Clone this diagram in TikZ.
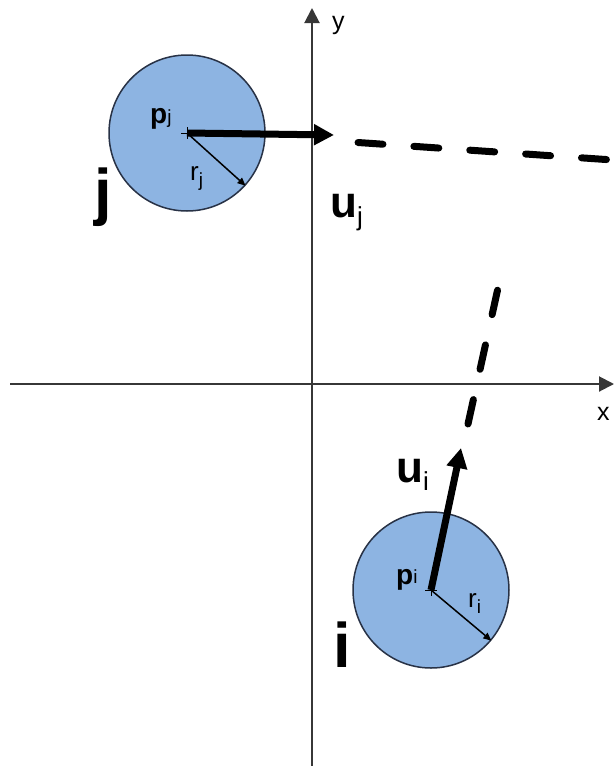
\documentclass[tikz,border=0pt]{standalone}
\usepackage{fontspec}
\setmainfont{Liberation Sans}
\usetikzlibrary{arrows.meta,calc}
\definecolor{discfill}{RGB}{141,180,226}
\definecolor{discline}{RGB}{40,50,70}
\definecolor{axiscol}{RGB}{55,55,55}
\begin{document}
\begin{tikzpicture}[x=1pt,y=-1pt,
  axis/.style={line width=2pt, draw=axiscol, -{Triangle[length=15pt,width=15pt]}},
  disc/.style={circle, minimum size=156pt, fill=discfill, draw=discline, line width=1.5pt, inner sep=0pt},
  vel/.style={line width=7pt, -{Triangle[length=20pt,width=20pt]}},
  dashline/.style={line width=7pt, line cap=round, dash pattern=on 25pt off 31pt},
  rad/.style={line width=1.5pt, -{Triangle[length=8pt,width=7pt]}},
  cross/.style={line width=1pt},
  lbl/.style={inner sep=0pt, anchor=base west},
  big/.style={lbl, font=\fontsize{63}{63}\selectfont\bfseries},
  vlab/.style={lbl, font=\fontsize{44}{44}\selectfont\bfseries},
  plab/.style={lbl, font=\fontsize{28}{28}\selectfont\bfseries},
  rlab/.style={lbl, font=\fontsize{26}{26}\selectfont},
  axlab/.style={lbl, font=\fontsize{25}{25}\selectfont}]
\useasboundingbox (0,0) rectangle (615,766);
% axes
\coordinate (xl) at (10,384);
\coordinate (xr) at (614,384);
\coordinate (yb) at (312,766);
\coordinate (yt) at (312,8);
\draw[axis] (xl) -- (xr);
\draw[axis] (yb) -- (yt);
\node[axlab] (xlab) at (597,420) {x};
\node[axlab] (ylab) at (332,29) {y};
% discs
\node[disc] (cj) at (187,133) {};
\node[disc] (ci) at (431,590) {};
% centre crosses
\draw[cross] ($(cj.center)+(-6,0)$) -- ($(cj.center)+(6,0)$);
\draw[cross] ($(cj.center)+(0,-6)$) -- ($(cj.center)+(0,6)$);
\draw[cross] ($(ci.center)+(-6,0)$) -- ($(ci.center)+(6,0)$);
\draw[cross] ($(ci.center)+(0,-6)$) -- ($(ci.center)+(0,6)$);
% radius arrows
\draw[rad] (cj.center) -- (cj.-42);
\draw[rad] (ci.center) -- (ci.-40);
% velocity arrows
\coordinate (ujtip) at (334,135);
\coordinate (uitip) at (461,448);
\draw[vel] (cj.center) -- (ujtip);
\draw[vel] (ci.center) -- (uitip);
% dashed extensions
\coordinate (dj0) at (358,142.5);
\coordinate (dj1) at (613,160);
\coordinate (di0) at (468,424);
\coordinate (di1) at (498,288);
\draw[dashline] (dj0) -- (dj1);
\draw[dashline] (di0) -- (di1);
% labels
\node[plab] (pj) at (150,123) {p\raisebox{0pt}{\fontsize{19}{19}\selectfont\mdseries j}};
\node[plab] (pi) at (396,584) {p\raisebox{1pt}{\fontsize{19}{19}\selectfont\mdseries i}};
\node[rlab] (rj) at (190,180) {r\raisebox{-6pt}{\fontsize{19}{19}\selectfont j}};
\node[rlab] (ri) at (468,607) {r\raisebox{-6pt}{\fontsize{19}{19}\selectfont i}};
\node[vlab] (ujl) at (330,217) {u\raisebox{-8pt}{\fontsize{26}{26}\selectfont\mdseries j}};
\node[vlab] (uil) at (396,482) {u\raisebox{-8pt}{\fontsize{26}{26}\selectfont\mdseries i}};
\node[big] (jl) at (94,213) {j};
\node[big] (il) at (333,667) {i};
\end{tikzpicture}
\end{document}
